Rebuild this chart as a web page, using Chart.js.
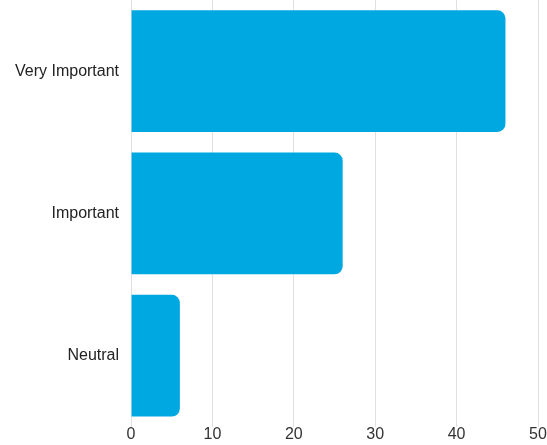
<!DOCTYPE html>
<html>
<head>
<meta charset="utf-8">
<script src="https://cdn.jsdelivr.net/npm/chart.js@4"></script>
<style>
  html, body { margin: 0; padding: 0; background: #fff; }
  #wrap { width: 547px; height: 445px; }
</style>
</head>
<body>
<div id="wrap"><canvas id="grafico"></canvas></div>
<script>
const categorias = ["Very Important", "Important", "Neutral"];
const valores = [46, 26, 6];
const ticksX = [0, 10, 20, 30, 40, 50];

const fonte = { family: "'Liberation Sans', Arial, sans-serif", size: 16 };

const config = {
  type: "bar",
  data: {
    labels: categorias,
    datasets: [
      {
        data: valores,
        backgroundColor: "#00A8E1",
        borderRadius: 8,
        borderSkipped: "start",
        barPercentage: 0.855,
        categoryPercentage: 1,
      },
    ],
  },
  options: {
    indexAxis: "y",
    responsive: true,
    maintainAspectRatio: false,
    animation: false,
    layout: { padding: { top: -1.5, left: 3, right: 9, bottom: 3 } },
    plugins: {
      legend: { display: false },
      tooltip: { enabled: false },
    },
    scales: {
      x: {
        min: 0,
        max: 50,
        afterBuildTicks: (axis) => {
          axis.ticks = ticksX.map((v) => ({ value: v }));
        },
        grid: { color: "#e0e0e0", drawTicks: false },
        border: { display: false },
        ticks: { padding: -2, color: "#333", font: fonte },
      },
      y: {
        grid: { display: false, drawTicks: false },
        border: { display: false },
        ticks: { padding: 12, color: "#222", font: fonte },
        afterFit: (scale) => {
          // sem margem extra em cima/baixo por causa dos rótulos
          scale.paddingTop = -1.5;
          scale.paddingBottom = 0;
        },
      },
    },
  },
};

new Chart(document.getElementById("grafico"), config);
</script>
</body>
</html>
